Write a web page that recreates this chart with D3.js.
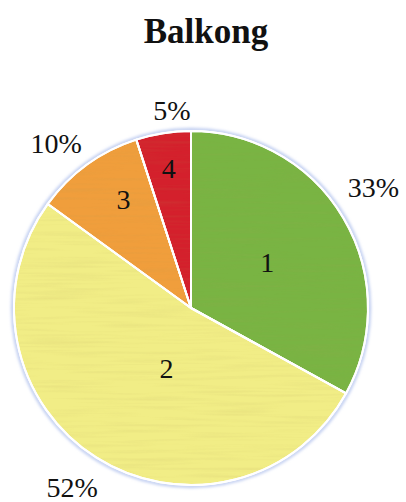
<!DOCTYPE html>
<html>
<head>
<meta charset="utf-8">
<script src="https://cdn.jsdelivr.net/npm/d3@7"></script>
<style>
  html, body { margin: 0; padding: 0; background: #ffffff; }
  svg { display: block; }
</style>
</head>
<body>
<svg id="chart" width="406" height="502"></svg>
<script>
// Balcony survey: share of answers per category
const categories = ["1", "2", "3", "4"];
const shares = [33, 52, 10, 5];
const percentLabels = ["33%", "52%", "10%", "5%"];
const sliceColors = ["#79b443", "#f1ed86", "#f09e3c", "#d4202c"];
const chartTitle = "Balkong";

const width = 406, height = 502;
const cx = 191, cy = 308, radius = 177;

const svg = d3.select("#chart");

// soft bluish rim around the pie
const defs = svg.append("defs");
defs.append("filter").attr("id", "rimBlur")
  .attr("x", "-10%").attr("y", "-10%").attr("width", "120%").attr("height", "120%")
  .append("feGaussianBlur").attr("stdDeviation", 1.6);

// fine streak texture laid over the slice colours
const tex = defs.append("filter").attr("id", "streaks")
  .attr("x", "0").attr("y", "0").attr("width", "100%").attr("height", "100%");
tex.append("feTurbulence").attr("type", "fractalNoise")
  .attr("baseFrequency", "0.012 0.3").attr("numOctaves", 2).attr("seed", 4).attr("result", "n");
tex.append("feColorMatrix").attr("in", "n").attr("type", "matrix")
  .attr("values", "0 0 0 0 0.45  0 0 0 0 0.35  0 0 0 0 0.1  0 0 0 1.0 -0.45");

const pieLayout = d3.pie().sort(null).value(d => d)(shares);

const arc = d3.arc().innerRadius(0).outerRadius(radius);

const g = svg.append("g").attr("transform", `translate(${cx},${cy})`);

g.append("circle").attr("r", radius + 1.5)
  .attr("fill", "none").attr("stroke", "#b9c8ef").attr("stroke-width", 3)
  .attr("filter", "url(#rimBlur)");

g.selectAll("path.slice")
  .data(pieLayout)
  .join("path")
  .attr("class", "slice")
  .attr("d", arc)
  .attr("fill", (d, i) => sliceColors[i])
  .attr("stroke", "#ffffff")
  .attr("stroke-width", 2)
  .attr("stroke-linejoin", "round");

// subtle grain clipped to the pie
const clip = defs.append("clipPath").attr("id", "pieClip");
clip.append("circle").attr("r", radius);
g.append("rect")
  .attr("x", -radius).attr("y", -radius)
  .attr("width", radius * 2).attr("height", radius * 2)
  .attr("clip-path", "url(#pieClip)")
  .attr("filter", "url(#streaks)")
  .attr("opacity", 0.25);

// re-draw the white separators on top of the grain
g.selectAll("path.sep")
  .data(pieLayout)
  .join("path")
  .attr("class", "sep")
  .attr("d", arc)
  .attr("fill", "none")
  .attr("stroke", "#ffffff")
  .attr("stroke-width", 2)
  .attr("stroke-linejoin", "round");

// label placement: radius fraction and angle shift (radians) for each slice
const innerPos = [[0.5, 0], [0.37, -0.18], [0.72, 0.07], [0.8, 0]];
const outerPos = [[1.235, -0.05], [1.215, 0.02], [1.2, -0.06], [1.12, 0.06]];

function polar(d, r, shift) {
  const a = (d.startAngle + d.endAngle) / 2 + shift;
  return [Math.sin(a) * r, -Math.cos(a) * r];
}

const font = "'Liberation Serif', 'Times New Roman', serif";

g.selectAll("text.cat")
  .data(pieLayout)
  .join("text")
  .attr("class", "cat")
  .attr("transform", (d, i) => {
    const p = polar(d, radius * innerPos[i][0], innerPos[i][1]);
    return `translate(${p[0]},${p[1]})`;
  })
  .attr("text-anchor", "middle")
  .attr("dy", "0.34em")
  .attr("font-family", font)
  .attr("font-size", 28)
  .attr("fill", "#111")
  .text((d, i) => categories[i]);

g.selectAll("text.pct")
  .data(pieLayout)
  .join("text")
  .attr("class", "pct")
  .attr("transform", (d, i) => {
    const p = polar(d, radius * outerPos[i][0], outerPos[i][1]);
    return `translate(${p[0]},${p[1]})`;
  })
  .attr("text-anchor", "middle")
  .attr("dy", "0.34em")
  .attr("font-family", font)
  .attr("font-size", 28)
  .attr("fill", "#111")
  .text((d, i) => percentLabels[i]);

svg.append("text")
  .attr("x", 206).attr("y", 43)
  .attr("text-anchor", "middle")
  .attr("font-family", font)
  .attr("font-weight", "bold")
  .attr("font-size", 35)
  .attr("fill", "#111")
  .text(chartTitle);
</script>
</body>
</html>
